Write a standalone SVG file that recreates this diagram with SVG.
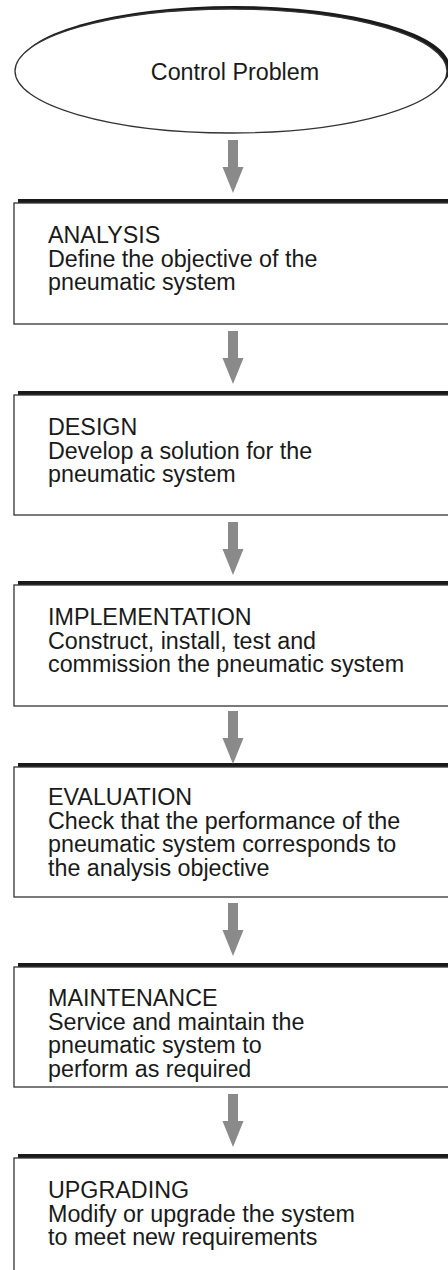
<svg xmlns="http://www.w3.org/2000/svg" width="448" height="1270" viewBox="0 0 448 1270">
<style>
.shadow{fill:#1a1a1a}
.box{fill:#fff;stroke:#333;stroke-width:1.3}
.t{font-family:"Liberation Sans",Arial,sans-serif;font-size:23.3px;fill:#1a1a1a}
.arrow{fill:#8a8a8a}
</style>
<rect width="448" height="1270" fill="#fff"/>
<g id="start">
<ellipse class="shadow" cx="234" cy="68" rx="216" ry="62"/>
<ellipse class="box" cx="231" cy="71" rx="216" ry="62"/>
<text class="t" x="235" y="80" text-anchor="middle">Control Problem</text>
</g>
<g id="analysis">
<rect class="shadow" x="18" y="199" width="440" height="8"/>
<rect class="box" x="14" y="203" width="450" height="121"/>
<text class="t" x="48" y="243">ANALYSIS</text>
<text class="t" x="48" y="266.5">Define the objective of the</text>
<text class="t" x="48" y="290">pneumatic system</text>
</g>
<g id="design">
<rect class="shadow" x="18" y="391" width="440" height="8"/>
<rect class="box" x="14" y="395" width="450" height="120"/>
<text class="t" x="48" y="435">DESIGN</text>
<text class="t" x="48" y="458.5">Develop a solution for the</text>
<text class="t" x="48" y="482">pneumatic system</text>
</g>
<g id="implementation">
<rect class="shadow" x="18" y="581" width="440" height="8"/>
<rect class="box" x="14" y="585" width="450" height="121"/>
<text class="t" x="48" y="625">IMPLEMENTATION</text>
<text class="t" x="48" y="648.5">Construct, install, test and</text>
<text class="t" x="48" y="672">commission the pneumatic system</text>
</g>
<g id="evaluation">
<rect class="shadow" x="18" y="763" width="440" height="8"/>
<rect class="box" x="14" y="767" width="450" height="130"/>
<text class="t" x="48" y="805">EVALUATION</text>
<text class="t" x="48" y="828.5">Check that the performance of the</text>
<text class="t" x="48" y="852">pneumatic system corresponds to</text>
<text class="t" x="48" y="875.5">the analysis objective</text>
</g>
<g id="maintenance">
<rect class="shadow" x="18" y="963" width="440" height="8"/>
<rect class="box" x="14" y="967" width="450" height="120"/>
<text class="t" x="48" y="1006">MAINTENANCE</text>
<text class="t" x="48" y="1029.5">Service and maintain the</text>
<text class="t" x="48" y="1053">pneumatic system to</text>
<text class="t" x="48" y="1076.5">perform as required</text>
</g>
<g id="upgrading">
<rect class="shadow" x="18" y="1154" width="440" height="8"/>
<rect class="box" x="14" y="1158" width="450" height="130"/>
<text class="t" x="48" y="1198">UPGRADING</text>
<text class="t" x="48" y="1221.5">Modify or upgrade the system</text>
<text class="t" x="48" y="1245">to meet new requirements</text>
</g>
<g id="connectors">
<defs>
<path id="arr" class="arrow" d="M-5,0 H5 V27 H10.5 L0,53 L-10.5,27 H-5 Z"/>
</defs>
<use href="#arr" x="233" y="140"/>
<use href="#arr" x="233" y="331"/>
<use href="#arr" x="233" y="522"/>
<use href="#arr" x="233" y="711"/>
<use href="#arr" x="233" y="903"/>
<use href="#arr" x="233" y="1094"/>
</g>
</svg>
